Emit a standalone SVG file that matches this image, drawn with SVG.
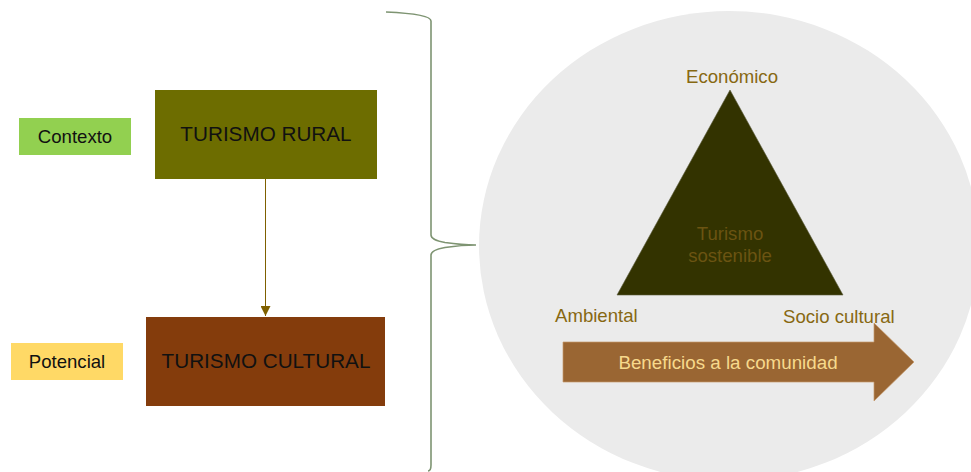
<svg xmlns="http://www.w3.org/2000/svg" width="971" height="472" viewBox="0 0 971 472">
<style>
text{font-family:"Liberation Sans",Arial,sans-serif;}
.lbl{font-size:18.6px;fill:#111;text-anchor:middle;}
.big{font-size:20.7px;fill:#111;text-anchor:middle;}
.dim{font-size:18.6px;fill:#876812;}
</style>
<defs>
<marker id="ah" viewBox="0 0 10 10" refX="10" refY="5" markerWidth="10" markerHeight="10" markerUnits="userSpaceOnUse" orient="auto">
<path d="M0,0 L10,5 L0,10 z" fill="#7F6000"/>
</marker>
</defs>
<rect width="971" height="472" fill="#ffffff"/>
<ellipse id="bg-circle" cx="729" cy="246" rx="250" ry="235" fill="#EBEBEB"/>

<g id="contexto">
<rect x="19" y="118" width="112" height="37" fill="#92D050"/>
<text class="lbl" x="75" y="143">Contexto</text>
</g>
<g id="potencial">
<rect x="11" y="343" width="112" height="37" fill="#FFD966"/>
<text class="lbl" x="67" y="368">Potencial</text>
</g>
<g id="turismo-rural">
<rect x="155" y="90" width="222" height="89" fill="#6D6D00"/>
<text class="big" x="266" y="141">TURISMO RURAL</text>
</g>
<g id="turismo-cultural">
<rect x="146" y="317" width="239" height="89" fill="#843C0C"/>
<text class="big" x="266" y="368">TURISMO CULTURAL</text>
</g>

<g id="connectors">
<line x1="265.5" y1="179" x2="265.5" y2="316" stroke="#7F6000" stroke-width="1" marker-end="url(#ah)"/>
<path d="M386,12 Q431,14 431,21 L431,235 Q431,240 445,242.5 Q462,245 476,245 Q462,245 445,247.5 Q431,250 431,255 L431,465 Q431,471 428,471" fill="none" stroke="#7E9472" stroke-width="1.6"/>
</g>

<g id="triangulo">
<polygon points="730,90 617,295 843,295" fill="#333300" stroke="#5a5a3a" stroke-width="0.6"/>
<text x="730" y="240" font-size="18.6" fill="#6B5412" text-anchor="middle">Turismo</text>
<text x="730" y="262" font-size="18.6" fill="#6B5412" text-anchor="middle">sostenible</text>
</g>
<g id="economico"><text class="dim" x="732" y="83" text-anchor="middle">Económico</text></g>
<g id="ambiental"><text class="dim" x="555" y="322">Ambiental</text></g>
<g id="socio-cultural"><text class="dim" x="783" y="323">Socio cultural</text></g>

<g id="beneficios">
<polygon points="563,342 874,342 874,323 914,362 874,401 874,382 563,382" fill="#9A6633" stroke="#C49A6C" stroke-width="0.7"/>
<text x="728" y="369" font-size="18.8" fill="#F7D98C" text-anchor="middle">Beneficios a la comunidad</text>
</g>
</svg>
